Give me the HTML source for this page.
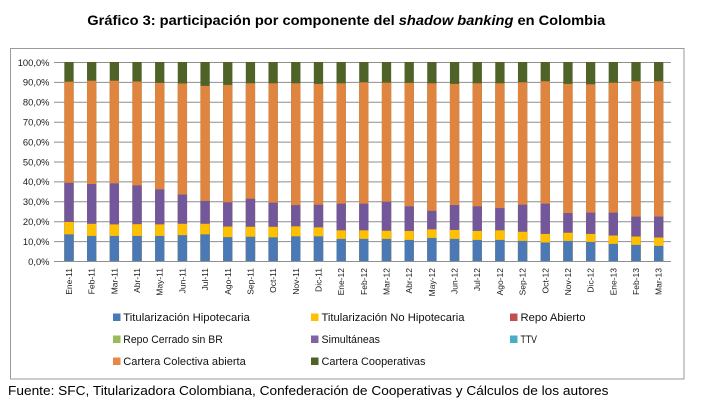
<!DOCTYPE html>
<html><head><meta charset="utf-8"><style>
html,body{margin:0;padding:0;background:#fff;}
svg{display:block;font-family:"Liberation Sans",sans-serif;}
.g{fill:#4F6228}.o{fill:#E0853F}.p{fill:#73579B}.y{fill:#FFC000}.b{fill:#4A79B5}
.yl{font-size:9.4px;fill:#1a1a1a;text-anchor:end}
.xl{font-size:8.5px;fill:#1a1a1a;text-anchor:end}
.lg{font-size:11px;fill:#111}
</style></head><body>
<svg width="713" height="418" viewBox="0 0 713 418" xmlns="http://www.w3.org/2000/svg">
<rect width="713" height="418" fill="#fff"/>
<text x="87.3" y="25" font-size="14" font-weight="bold" fill="#000" textLength="518" lengthAdjust="spacingAndGlyphs">Gráfico 3: participación por componente del <tspan font-style="italic">shadow banking</tspan> en Colombia</text>
<rect x="10.5" y="48.5" width="673.5" height="330.5" fill="none" stroke="#9A9A9A" stroke-width="1"/>
<g stroke="#8E8E8E" stroke-width="1">
<line x1="54" y1="62.5" x2="671" y2="62.5"/>
<line x1="54" y1="82.4" x2="671" y2="82.4"/>
<line x1="54" y1="102.3" x2="671" y2="102.3"/>
<line x1="54" y1="122.2" x2="671" y2="122.2"/>
<line x1="54" y1="142.1" x2="671" y2="142.1"/>
<line x1="54" y1="162" x2="671" y2="162"/>
<line x1="54" y1="181.9" x2="671" y2="181.9"/>
<line x1="54" y1="201.8" x2="671" y2="201.8"/>
<line x1="54" y1="221.7" x2="671" y2="221.7"/>
<line x1="54" y1="241.6" x2="671" y2="241.6"/>
<line x1="54" y1="261.5" x2="671" y2="261.5"/>
</g>
<g>
<text class="yl" x="49.5" y="65.8">100,0%</text>
<text class="yl" x="49.5" y="85.7">90,0%</text>
<text class="yl" x="49.5" y="105.6">80,0%</text>
<text class="yl" x="49.5" y="125.5">70,0%</text>
<text class="yl" x="49.5" y="145.4">60,0%</text>
<text class="yl" x="49.5" y="165.3">50,0%</text>
<text class="yl" x="49.5" y="185.2">40,0%</text>
<text class="yl" x="49.5" y="205.1">30,0%</text>
<text class="yl" x="49.5" y="225">20,0%</text>
<text class="yl" x="49.5" y="244.9">10,0%</text>
<text class="yl" x="49.5" y="264.8">0,0%</text>
</g>
<g>
<g transform="translate(69 261) scale(1 -1.99)"><rect class="g" x="-4.65" width="9.3" height="100"/><rect class="o" x="-4.65" width="9.3" height="90.1"/><rect class="p" x="-4.65" width="9.3" height="39.3"/><rect class="y" x="-4.65" width="9.3" height="19.6"/><rect class="b" x="-4.65" width="9.3" height="13.4"/></g>
<g transform="translate(91.68 261) scale(1 -1.99)"><rect class="g" x="-4.65" width="9.3" height="100"/><rect class="o" x="-4.65" width="9.3" height="90.6"/><rect class="p" x="-4.65" width="9.3" height="38.7"/><rect class="y" x="-4.65" width="9.3" height="18.7"/><rect class="b" x="-4.65" width="9.3" height="12.6"/></g>
<g transform="translate(114.36 261) scale(1 -1.99)"><rect class="g" x="-4.65" width="9.3" height="100"/><rect class="o" x="-4.65" width="9.3" height="90.6"/><rect class="p" x="-4.65" width="9.3" height="39"/><rect class="y" x="-4.65" width="9.3" height="18.4"/><rect class="b" x="-4.65" width="9.3" height="12.6"/></g>
<g transform="translate(137.04 261) scale(1 -1.99)"><rect class="g" x="-4.65" width="9.3" height="100"/><rect class="o" x="-4.65" width="9.3" height="90.2"/><rect class="p" x="-4.65" width="9.3" height="38"/><rect class="y" x="-4.65" width="9.3" height="18.5"/><rect class="b" x="-4.65" width="9.3" height="12.6"/></g>
<g transform="translate(159.72 261) scale(1 -1.99)"><rect class="g" x="-4.65" width="9.3" height="100"/><rect class="o" x="-4.65" width="9.3" height="89.5"/><rect class="p" x="-4.65" width="9.3" height="36"/><rect class="y" x="-4.65" width="9.3" height="18.4"/><rect class="b" x="-4.65" width="9.3" height="12.6"/></g>
<g transform="translate(182.4 261) scale(1 -1.99)"><rect class="g" x="-4.65" width="9.3" height="100"/><rect class="o" x="-4.65" width="9.3" height="89.2"/><rect class="p" x="-4.65" width="9.3" height="33.4"/><rect class="y" x="-4.65" width="9.3" height="18.7"/><rect class="b" x="-4.65" width="9.3" height="13"/></g>
<g transform="translate(205.08 261) scale(1 -1.99)"><rect class="g" x="-4.65" width="9.3" height="100"/><rect class="o" x="-4.65" width="9.3" height="88"/><rect class="p" x="-4.65" width="9.3" height="30.2"/><rect class="y" x="-4.65" width="9.3" height="18.7"/><rect class="b" x="-4.65" width="9.3" height="13.4"/></g>
<g transform="translate(227.76 261) scale(1 -1.99)"><rect class="g" x="-4.65" width="9.3" height="100"/><rect class="o" x="-4.65" width="9.3" height="88.5"/><rect class="p" x="-4.65" width="9.3" height="29.5"/><rect class="y" x="-4.65" width="9.3" height="17.3"/><rect class="b" x="-4.65" width="9.3" height="12"/></g>
<g transform="translate(250.44 261) scale(1 -1.99)"><rect class="g" x="-4.65" width="9.3" height="100"/><rect class="o" x="-4.65" width="9.3" height="89.3"/><rect class="p" x="-4.65" width="9.3" height="31.3"/><rect class="y" x="-4.65" width="9.3" height="17.2"/><rect class="b" x="-4.65" width="9.3" height="12.2"/></g>
<g transform="translate(273.12 261) scale(1 -1.99)"><rect class="g" x="-4.65" width="9.3" height="100"/><rect class="o" x="-4.65" width="9.3" height="89.3"/><rect class="p" x="-4.65" width="9.3" height="29.3"/><rect class="y" x="-4.65" width="9.3" height="17.2"/><rect class="b" x="-4.65" width="9.3" height="11.9"/></g>
<g transform="translate(295.8 261) scale(1 -1.99)"><rect class="g" x="-4.65" width="9.3" height="100"/><rect class="o" x="-4.65" width="9.3" height="89.3"/><rect class="p" x="-4.65" width="9.3" height="28.1"/><rect class="y" x="-4.65" width="9.3" height="17.4"/><rect class="b" x="-4.65" width="9.3" height="12.4"/></g>
<g transform="translate(318.48 261) scale(1 -1.99)"><rect class="g" x="-4.65" width="9.3" height="100"/><rect class="o" x="-4.65" width="9.3" height="89"/><rect class="p" x="-4.65" width="9.3" height="28.3"/><rect class="y" x="-4.65" width="9.3" height="16.9"/><rect class="b" x="-4.65" width="9.3" height="12.4"/></g>
<g transform="translate(341.16 261) scale(1 -1.99)"><rect class="g" x="-4.65" width="9.3" height="100"/><rect class="o" x="-4.65" width="9.3" height="89.3"/><rect class="p" x="-4.65" width="9.3" height="28.8"/><rect class="y" x="-4.65" width="9.3" height="15.4"/><rect class="b" x="-4.65" width="9.3" height="11.1"/></g>
<g transform="translate(363.84 261) scale(1 -1.99)"><rect class="g" x="-4.65" width="9.3" height="100"/><rect class="o" x="-4.65" width="9.3" height="89.8"/><rect class="p" x="-4.65" width="9.3" height="28.8"/><rect class="y" x="-4.65" width="9.3" height="15.4"/><rect class="b" x="-4.65" width="9.3" height="11.1"/></g>
<g transform="translate(386.52 261) scale(1 -1.99)"><rect class="g" x="-4.65" width="9.3" height="100"/><rect class="o" x="-4.65" width="9.3" height="89.6"/><rect class="p" x="-4.65" width="9.3" height="29.8"/><rect class="y" x="-4.65" width="9.3" height="15.2"/><rect class="b" x="-4.65" width="9.3" height="11.1"/></g>
<g transform="translate(409.2 261) scale(1 -1.99)"><rect class="g" x="-4.65" width="9.3" height="100"/><rect class="o" x="-4.65" width="9.3" height="89.5"/><rect class="p" x="-4.65" width="9.3" height="27.5"/><rect class="y" x="-4.65" width="9.3" height="15.1"/><rect class="b" x="-4.65" width="9.3" height="10.6"/></g>
<g transform="translate(431.88 261) scale(1 -1.99)"><rect class="g" x="-4.65" width="9.3" height="100"/><rect class="o" x="-4.65" width="9.3" height="89.3"/><rect class="p" x="-4.65" width="9.3" height="25.2"/><rect class="y" x="-4.65" width="9.3" height="15.9"/><rect class="b" x="-4.65" width="9.3" height="11.6"/></g>
<g transform="translate(454.56 261) scale(1 -1.99)"><rect class="g" x="-4.65" width="9.3" height="100"/><rect class="o" x="-4.65" width="9.3" height="89"/><rect class="p" x="-4.65" width="9.3" height="28.1"/><rect class="y" x="-4.65" width="9.3" height="15.6"/><rect class="b" x="-4.65" width="9.3" height="11.1"/></g>
<g transform="translate(477.24 261) scale(1 -1.99)"><rect class="g" x="-4.65" width="9.3" height="100"/><rect class="o" x="-4.65" width="9.3" height="89.3"/><rect class="p" x="-4.65" width="9.3" height="27.5"/><rect class="y" x="-4.65" width="9.3" height="15.1"/><rect class="b" x="-4.65" width="9.3" height="10.6"/></g>
<g transform="translate(499.92 261) scale(1 -1.99)"><rect class="g" x="-4.65" width="9.3" height="100"/><rect class="o" x="-4.65" width="9.3" height="89.3"/><rect class="p" x="-4.65" width="9.3" height="26.6"/><rect class="y" x="-4.65" width="9.3" height="15.4"/><rect class="b" x="-4.65" width="9.3" height="10.6"/></g>
<g transform="translate(522.6 261) scale(1 -1.99)"><rect class="g" x="-4.65" width="9.3" height="100"/><rect class="o" x="-4.65" width="9.3" height="89.8"/><rect class="p" x="-4.65" width="9.3" height="28.3"/><rect class="y" x="-4.65" width="9.3" height="14.7"/><rect class="b" x="-4.65" width="9.3" height="10.1"/></g>
<g transform="translate(545.28 261) scale(1 -1.99)"><rect class="g" x="-4.65" width="9.3" height="100"/><rect class="o" x="-4.65" width="9.3" height="90.3"/><rect class="p" x="-4.65" width="9.3" height="28.8"/><rect class="y" x="-4.65" width="9.3" height="13.6"/><rect class="b" x="-4.65" width="9.3" height="9.3"/></g>
<g transform="translate(567.96 261) scale(1 -1.99)"><rect class="g" x="-4.65" width="9.3" height="100"/><rect class="o" x="-4.65" width="9.3" height="89"/><rect class="p" x="-4.65" width="9.3" height="24.1"/><rect class="y" x="-4.65" width="9.3" height="14.2"/><rect class="b" x="-4.65" width="9.3" height="10.1"/></g>
<g transform="translate(590.64 261) scale(1 -1.99)"><rect class="g" x="-4.65" width="9.3" height="100"/><rect class="o" x="-4.65" width="9.3" height="88.8"/><rect class="p" x="-4.65" width="9.3" height="24.3"/><rect class="y" x="-4.65" width="9.3" height="13.6"/><rect class="b" x="-4.65" width="9.3" height="9.6"/></g>
<g transform="translate(613.32 261) scale(1 -1.99)"><rect class="g" x="-4.65" width="9.3" height="100"/><rect class="o" x="-4.65" width="9.3" height="89.6"/><rect class="p" x="-4.65" width="9.3" height="24.3"/><rect class="y" x="-4.65" width="9.3" height="12.8"/><rect class="b" x="-4.65" width="9.3" height="8.6"/></g>
<g transform="translate(636 261) scale(1 -1.99)"><rect class="g" x="-4.65" width="9.3" height="100"/><rect class="o" x="-4.65" width="9.3" height="90.3"/><rect class="p" x="-4.65" width="9.3" height="22.3"/><rect class="y" x="-4.65" width="9.3" height="12.3"/><rect class="b" x="-4.65" width="9.3" height="8.1"/></g>
<g transform="translate(658.68 261) scale(1 -1.99)"><rect class="g" x="-4.65" width="9.3" height="100"/><rect class="o" x="-4.65" width="9.3" height="90.3"/><rect class="p" x="-4.65" width="9.3" height="22.3"/><rect class="y" x="-4.65" width="9.3" height="11.8"/><rect class="b" x="-4.65" width="9.3" height="7.6"/></g>
</g>
<g>
<text class="xl" transform="translate(72 268) rotate(-90)">Ene-11</text>
<text class="xl" transform="translate(94.68 268) rotate(-90)">Feb-11</text>
<text class="xl" transform="translate(117.36 268) rotate(-90)">Mar-11</text>
<text class="xl" transform="translate(140.04 268) rotate(-90)">Abr-11</text>
<text class="xl" transform="translate(162.72 268) rotate(-90)">May-11</text>
<text class="xl" transform="translate(185.4 268) rotate(-90)">Jun-11</text>
<text class="xl" transform="translate(208.08 268) rotate(-90)">Jul-11</text>
<text class="xl" transform="translate(230.76 268) rotate(-90)">Ago-11</text>
<text class="xl" transform="translate(253.44 268) rotate(-90)">Sep-11</text>
<text class="xl" transform="translate(276.12 268) rotate(-90)">Oct-11</text>
<text class="xl" transform="translate(298.8 268) rotate(-90)">Nov-11</text>
<text class="xl" transform="translate(321.48 268) rotate(-90)">Dic-11</text>
<text class="xl" transform="translate(344.16 268) rotate(-90)">Ene-12</text>
<text class="xl" transform="translate(366.84 268) rotate(-90)">Feb-12</text>
<text class="xl" transform="translate(389.52 268) rotate(-90)">Mar-12</text>
<text class="xl" transform="translate(412.2 268) rotate(-90)">Abr-12</text>
<text class="xl" transform="translate(434.88 268) rotate(-90)">May-12</text>
<text class="xl" transform="translate(457.56 268) rotate(-90)">Jun-12</text>
<text class="xl" transform="translate(480.24 268) rotate(-90)">Jul-12</text>
<text class="xl" transform="translate(502.92 268) rotate(-90)">Ago-12</text>
<text class="xl" transform="translate(525.6 268) rotate(-90)">Sep-12</text>
<text class="xl" transform="translate(548.28 268) rotate(-90)">Oct-12</text>
<text class="xl" transform="translate(570.96 268) rotate(-90)">Nov-12</text>
<text class="xl" transform="translate(593.64 268) rotate(-90)">Dic-12</text>
<text class="xl" transform="translate(616.32 268) rotate(-90)">Ene-13</text>
<text class="xl" transform="translate(639 268) rotate(-90)">Feb-13</text>
<text class="xl" transform="translate(661.68 268) rotate(-90)">Mar-13</text>
</g>
<g>
<rect x="113" y="313.5" width="7.5" height="7.5" fill="#4A7BB7"/>
<text class="lg" x="123.3" y="321" textLength="126.5" lengthAdjust="spacingAndGlyphs">Titularización Hipotecaria</text>
<rect x="311" y="313.5" width="7.5" height="7.5" fill="#FFC000"/>
<text class="lg" x="321.5" y="321" textLength="143" lengthAdjust="spacingAndGlyphs">Titularización No Hipotecaria</text>
<rect x="510" y="313.5" width="7.5" height="7.5" fill="#C0504D"/>
<text class="lg" x="520.5" y="321" textLength="65" lengthAdjust="spacingAndGlyphs">Repo Abierto</text>
<rect x="113" y="335.5" width="7.5" height="7.5" fill="#9BBB59"/>
<text class="lg" x="123.3" y="343" textLength="99.5" lengthAdjust="spacingAndGlyphs">Repo Cerrado sin BR</text>
<rect x="311" y="335.5" width="7.5" height="7.5" fill="#8064A2"/>
<text class="lg" x="321.5" y="343" textLength="58.5" lengthAdjust="spacingAndGlyphs">Simultáneas</text>
<rect x="510" y="335.5" width="7.5" height="7.5" fill="#4BACC6"/>
<text class="lg" x="520.5" y="343" textLength="16.5" lengthAdjust="spacingAndGlyphs">TTV</text>
<rect x="113" y="357.5" width="7.5" height="7.5" fill="#E58A45"/>
<text class="lg" x="123.3" y="365" textLength="122.5" lengthAdjust="spacingAndGlyphs">Cartera Colectiva abierta</text>
<rect x="311" y="357.5" width="7.5" height="7.5" fill="#4F6228"/>
<text class="lg" x="321.5" y="365" textLength="104" lengthAdjust="spacingAndGlyphs">Cartera Cooperativas</text>
</g>
<text x="8" y="395" font-size="12.5" fill="#000" textLength="600.5" lengthAdjust="spacingAndGlyphs">Fuente: SFC, Titularizadora Colombiana, Confederación de Cooperativas y Cálculos de los autores</text>
</svg>
</body></html>
